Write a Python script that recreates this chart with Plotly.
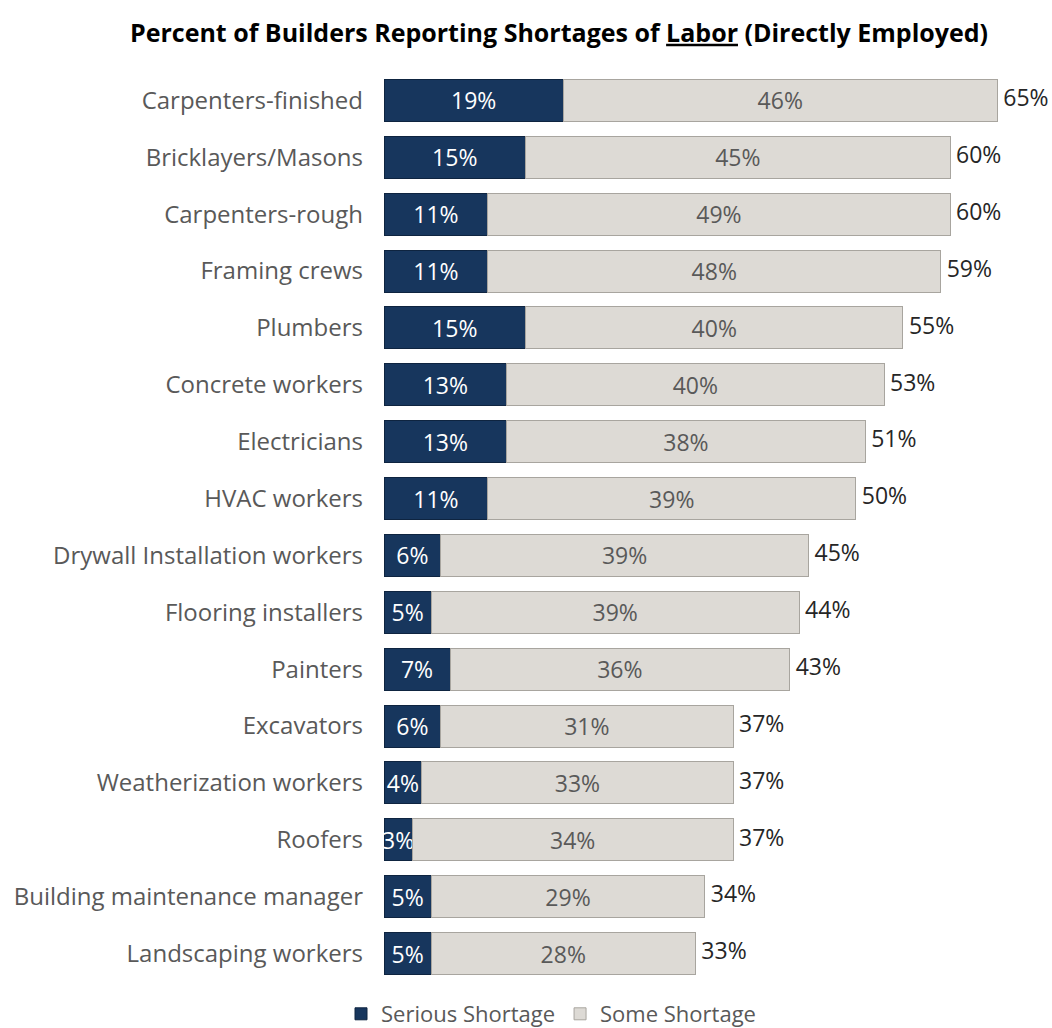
import plotly.graph_objects as go

categories = ["Carpenters-finished", "Bricklayers/Masons", "Carpenters-rough", "Framing crews",
              "Plumbers", "Concrete workers", "Electricians", "HVAC workers",
              "Drywall Installation workers", "Flooring installers", "Painters", "Excavators",
              "Weatherization workers", "Roofers", "Building maintenance manager", "Landscaping workers"]
serious = [19, 15, 11, 11, 15, 13, 13, 11, 6, 5, 7, 6, 4, 3, 5, 5]
some = [46, 45, 49, 48, 40, 40, 38, 39, 39, 39, 36, 31, 33, 34, 29, 28]
totals = [65, 60, 60, 59, 55, 53, 51, 50, 45, 44, 43, 37, 37, 37, 34, 33]

FONT = "Open Sans"

fig = go.Figure()
fig.add_trace(go.Bar(
    y=categories, x=serious, orientation="h", name="Serious Shortage",
    marker=dict(color="#17365d", line=dict(color="#0e2440", width=1)),
    text=[f"{v}%" for v in serious], textposition="inside", insidetextanchor="middle",
    constraintext="none", textangle=0, cliponaxis=False,
    textfont=dict(color="white", size=23, family=FONT),
))
fig.add_trace(go.Bar(
    y=categories, x=some, orientation="h", name="Some Shortage",
    marker=dict(color="#dddad5", line=dict(color="#a8a59f", width=1)),
    text=[f"{v}%" for v in some], textposition="inside", insidetextanchor="middle",
    constraintext="none", textangle=0,
    textfont=dict(color="#595959", size=23, family=FONT),
))
fig.add_trace(go.Scatter(
    y=categories, x=totals, mode="text", showlegend=False,
    text=[f" {v}%" for v in totals], textposition="middle right",
    textfont=dict(color="#262626", size=23, family=FONT),
    cliponaxis=False, hoverinfo="skip",
))

fig.update_layout(
    width=1052, height=1028,
    barmode="stack", bargap=0.26,
    plot_bgcolor="white", paper_bgcolor="white",
    margin=dict(l=384, r=0, t=72, b=46, autoexpand=False),
    font=dict(family=FONT, color="#595959"),
    title=dict(text="<b>Percent of Builders Reporting Shortages of <u>Labor</u> (Directly Employed)</b>",
               x=559/1052, xanchor="center", y=1-33/1028, yanchor="middle",
               font=dict(size=25, color="#000000", family=FONT)),
    xaxis=dict(range=[0, 70.8], visible=False, showgrid=False, zeroline=False),
    yaxis=dict(range=[len(categories) - 0.5, -0.5], showgrid=False, zeroline=False, showline=False,
               ticks="", ticklabelstandoff=20,
               tickfont=dict(size=24, color="#595959", family=FONT)),
    legend=dict(orientation="h", traceorder="normal", x=0.25, xanchor="center",
                y=-32/910, yanchor="middle",
                font=dict(size=22, color="#595959", family=FONT),
                itemwidth=30),
    showlegend=True,
)

fig.write_html("out.html")
